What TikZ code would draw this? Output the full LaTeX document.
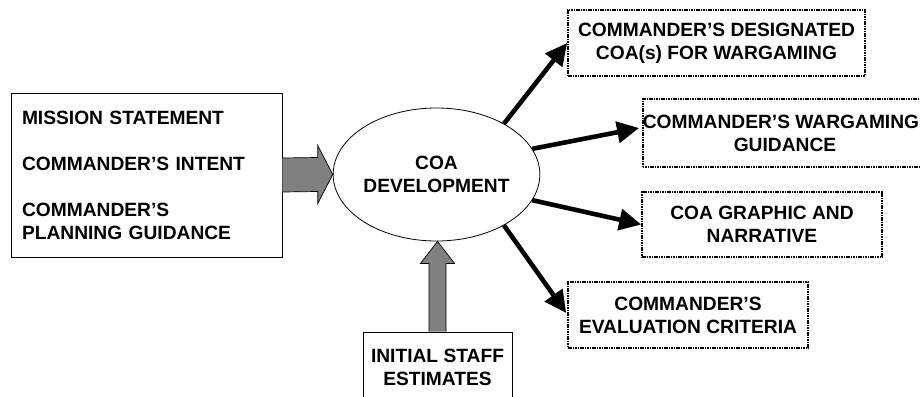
\documentclass[tikz,border=0pt]{standalone}
\usepackage{fontspec}
\setmainfont{Liberation Sans}
\usetikzlibrary{arrows.meta,calc,shapes.geometric}
\definecolor{arrowgray}{HTML}{808080}
\tikzset{
  txt/.style={font=\fontsize{19.2}{23}\selectfont\bfseries, align=center, inner sep=0pt},
  solidbox/.style={txt, draw=black, line width=0.9pt, fill=white},
  dotbox/.style={txt, draw=black, line width=1.6pt, dash pattern=on 1.6pt off 0.8pt},
  outarrow/.style={line width=4.6pt, -{Triangle[length=22pt,width=21pt]}},
  bigarrow/.style={fill=arrowgray, draw=black, line width=0.7pt, line join=miter},
}
\begin{document}
\begin{tikzpicture}[x=1pt,y=-1pt]
\useasboundingbox (0,0) rectangle (920,396);

% left input box
\node[solidbox, minimum width=271pt, minimum height=164pt, text width=249pt, align=left, inner sep=11pt] (L) at (146.5,175)
  {MISSION STATEMENT\\[23pt]COMMANDER'S INTENT\\[23pt]COMMANDER'S\\PLANNING GUIDANCE};

% centre ellipse
\node[txt, ellipse, draw=black, line width=0.8pt, minimum width=197pt, minimum height=133pt] (C) at (436.5,174.5)
  {COA\\DEVELOPMENT};

% bottom box
\node[solidbox, minimum width=149pt, minimum height=70pt] (S) at (437.5,367)
  {INITIAL STAFF\\ESTIMATES};

% output boxes
\node[dotbox, minimum width=297pt, minimum height=66pt] (B1) at (716.5,43) {COMMANDER'S DESIGNATED\\COA(s) FOR WARGAMING};
\node[dotbox, minimum width=284pt, minimum height=68pt] (B2) at (785,133) {COMMANDER'S WARGAMING\kern8pt\\GUIDANCE};
\node[dotbox, minimum width=240pt, minimum height=65pt] (B3) at (762,224.5) {COA GRAPHIC AND\\NARRATIVE};
\node[dotbox, minimum width=240pt, minimum height=66pt] (B4) at (688,315) {COMMANDER'S\\EVALUATION CRITERIA};

% gray arrow from left box to ellipse
\draw[bigarrow] ($(L.east)+(0,-17)$) -- ($(C.west)+(-15,-17)$) -- ($(C.west)+(-15,-29)$) -- (C.west)
  -- ($(C.west)+(-15,29)$) -- ($(C.west)+(-15,17)$) -- ($(L.east)+(0,17)$);

% gray arrow from bottom box to ellipse
\draw[bigarrow] ($(S.north)+(-8.5,0)$) -- ($(C.south)+(-7.5,22)$) -- ($(C.south)+(-16,22)$) -- ($(C.south)+(1,0)$)
  -- ($(C.south)+(18,22)$) -- ($(C.south)+(9.5,22)$) -- ($(S.north)+(8.5,0)$);

% black output arrows
\draw[outarrow] (C.37) -- (B1.west);
\draw[outarrow] (C.15) -- ($(B2.west)+(-3,-5)$);
\draw[outarrow] (C.-15) -- (B3.west);
\draw[outarrow] (C.-37) -- ($(B4.west)+(-1,-2)$);
\end{tikzpicture}
\end{document}
